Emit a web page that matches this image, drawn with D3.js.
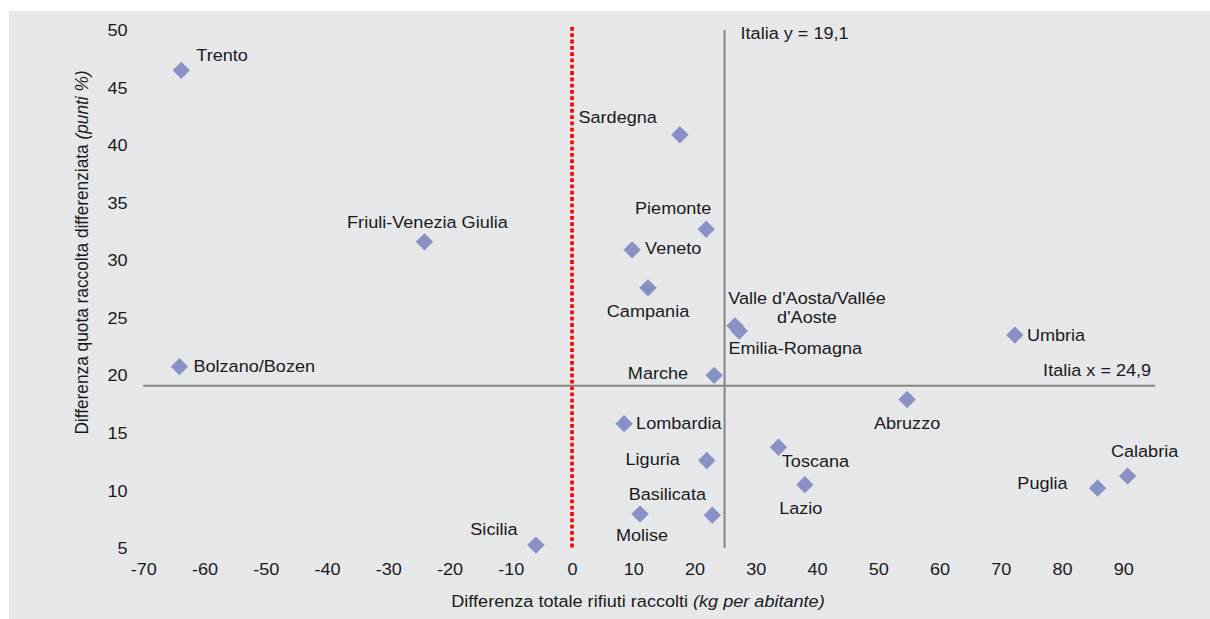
<!DOCTYPE html>
<html>
<head>
<meta charset="utf-8">
<script src="https://cdn.jsdelivr.net/npm/d3@7/dist/d3.min.js"></script>
<style>
  html, body { margin: 0; padding: 0; background: #ffffff; }
  svg { display: block; }
  text { font-family: "Liberation Sans", Arial, sans-serif; fill: #1a1a1a; }
</style>
</head>
<body>
<svg id="chart" width="1210" height="619"></svg>
<script>
// Regions: change in total waste collected (kg per inhabitant) vs change in separate collection share (points %)
const regions = ["Trento", "Sardegna", "Friuli-Venezia Giulia", "Piemonte", "Veneto", "Campania",
  "Valle d'Aosta/Vallée d'Aoste", "Emilia-Romagna", "Umbria", "Bolzano/Bozen", "Marche", "Abruzzo",
  "Lombardia", "Toscana", "Liguria", "Calabria", "Lazio", "Puglia", "Basilicata", "Molise", "Sicilia"];
const wasteDiff = [-63.8, 17.6, -24.1, 21.9, 9.8, 12.4, 26.6, 27.3, 72.3, -64.1, 23.2, 54.7,
  8.5, 33.7, 22.0, 90.7, 38.0, 85.8, 22.9, 11.1, -5.9];
const sharePoints = [46.5, 40.9, 31.6, 32.7, 30.9, 27.6, 24.3, 23.85, 23.5, 20.75, 20.0, 17.9,
  15.8, 13.75, 12.6, 11.25, 10.5, 10.2, 7.85, 7.95, 5.25];

const xTicks = [-70, -60, -50, -40, -30, -20, -10, 0, 10, 20, 30, 40, 50, 60, 70, 80, 90];
const yTicks = [5, 10, 15, 20, 25, 30, 35, 40, 45, 50];

// National reference values
const italiaX = 24.9;
const italiaY = 19.1;
const italiaXLabel = "Italia y = 19,1";
const italiaYLabel = "Italia x = 24,9";

const xTitle = "Differenza totale rifiuti raccolti ";
const xTitleItalic = "(kg per abitante)";
const yTitle = "Differenza quota raccolta differenziata ";
const yTitleItalic = "(punti %)";

// Label placement around each marker: anchor and offset (px) of the text centre
const labelPlacement = {
  "Trento": ["start", 15, -15],
  "Sardegna": ["end", -23, -17],
  "Friuli-Venezia Giulia": ["middle", 3, -19],
  "Piemonte": ["middle", -33, -21],
  "Veneto": ["start", 13, -1],
  "Campania": ["middle", 0, 24],
  "Valle d'Aosta/Vallée d'Aoste": ["middle", 72, -27, ["Valle d'Aosta/Vallée", "d'Aoste"]],
  "Emilia-Romagna": ["middle", 56, 17],
  "Umbria": ["start", 12, 0],
  "Bolzano/Bozen": ["start", 14, 0],
  "Marche": ["end", -26, -2],
  "Abruzzo": ["middle", 0, 24],
  "Lombardia": ["start", 12, 0],
  "Toscana": ["middle", 37, 14],
  "Liguria": ["end", -27, -1],
  "Calabria": ["middle", 17, -25],
  "Lazio": ["middle", -4, 24],
  "Puglia": ["end", -30, -5],
  "Basilicata": ["middle", -45, -21],
  "Molise": ["middle", 2, 21],
  "Sicilia": ["middle", -42, -16]
};

const W = 1210, H = 619;
const FS = 16.3;          // font size
const SX = 1.11;          // horizontal text stretch
const BASE = 5.6;         // centre-to-baseline shift

const svg = d3.select("#chart");

// Panel background
svg.append("rect").attr("x", 9).attr("y", 11).attr("width", W - 9).attr("height", H - 11)
  .attr("fill", "#e6e7e9");

const x = d3.scaleLinear().domain([-70, 90]).range([143.3, 1123.3]);
const y = d3.scaleLinear().domain([5, 50]).range([548, 30]);

// Text helper with slight horizontal stretch
function putText(sel, px, py, str, anchor) {
  return sel.append("text")
    .attr("transform", `translate(${px},${py}) scale(${SX},1)`)
    .attr("text-anchor", anchor || "start")
    .attr("font-size", FS)
    .text(str);
}

// Axes (labels only), plain hyphen for negatives
const plain = d => String(d);
const xAxis = svg.append("g").attr("transform", "translate(0,563.5)")
  .call(d3.axisBottom(x).tickValues(xTicks).tickSize(0).tickPadding(0).tickFormat(plain));
const yAxis = svg.append("g").attr("transform", "translate(127.5,0)")
  .call(d3.axisLeft(y).tickValues(yTicks).tickSize(0).tickPadding(0).tickFormat(plain));
[xAxis, yAxis].forEach(a => {
  a.select(".domain").remove();
  a.selectAll("text")
    .attr("font-size", FS)
    .attr("font-family", "'Liberation Sans', Arial, sans-serif")
    .attr("fill", "#1a1a1a")
    .attr("transform", `scale(${SX},1)`);
});
xAxis.selectAll("text").attr("dy", "0.71em").attr("y", 0);
yAxis.selectAll("text").attr("dy", BASE).attr("x", 0);

// Zero reference (red dotted)
svg.append("line")
  .attr("x1", x(0)).attr("x2", x(0))
  .attr("y1", y(50) - 3).attr("y2", y(5) + 1)
  .attr("stroke", "#ff0000").attr("stroke-width", 3.6)
  .attr("stroke-dasharray", "3.8,2.5");

// National average lines
svg.append("line")
  .attr("x1", x(italiaX)).attr("x2", x(italiaX))
  .attr("y1", y(50)).attr("y2", y(5))
  .attr("stroke", "#858585").attr("stroke-width", 2);
svg.append("line")
  .attr("x1", x(-70)).attr("x2", x(95.2))
  .attr("y1", y(italiaY)).attr("y2", y(italiaY))
  .attr("stroke", "#858585").attr("stroke-width", 2);

putText(svg, x(italiaX) + 16, 33 + BASE, italiaXLabel, "start");
putText(svg, x(95.2) - 4, y(italiaY) - 15 + BASE, italiaYLabel, "end");

// Markers
const diamond = d3.symbol().type(d3.symbolSquare).size(150);
svg.append("g").selectAll("path")
  .data(regions)
  .join("path")
  .attr("d", diamond)
  .attr("transform", (d, i) => `translate(${x(wasteDiff[i])},${y(sharePoints[i])}) rotate(45)`)
  .attr("fill", "#8890c4");

// Marker labels
regions.forEach((name, i) => {
  const p = labelPlacement[name];
  const px = x(wasteDiff[i]) + p[1];
  const py = y(sharePoints[i]) + p[2];
  if (p[3]) {
    p[3].forEach((line, k) => putText(svg, px, py + k * 18.5 + BASE, line, p[0]));
  } else {
    putText(svg, px, py + BASE, name, p[0]);
  }
});

// Axis titles
const xt = svg.append("text")
  .attr("transform", `translate(638,606.5) scale(${SX},1)`)
  .attr("text-anchor", "middle").attr("font-size", FS);
xt.append("tspan").text(xTitle);
xt.append("tspan").attr("font-style", "italic").text(xTitleItalic);

const yt = svg.append("text")
  .attr("transform", `translate(${81.7 + BASE * 1.08},252.5) rotate(-90) scale(1.06,1.08)`)
  .attr("text-anchor", "middle").attr("font-size", FS);
yt.append("tspan").text(yTitle);
yt.append("tspan").attr("font-style", "italic").text(yTitleItalic);
</script>
</body>
</html>
